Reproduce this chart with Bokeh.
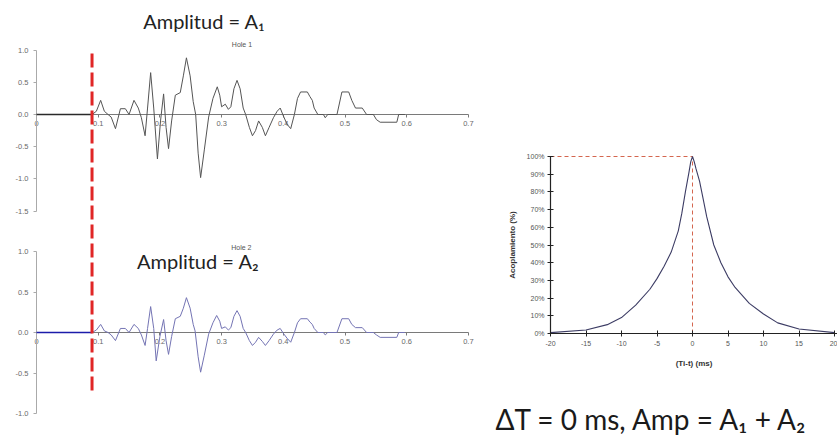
from bokeh.plotting import figure
from bokeh.models import (Range1d, LinearAxis, FixedTicker, PrintfTickFormatter,
                          NumeralTickFormatter, Label)
from bokeh.embed import file_html
from bokeh.resources import INLINE

# ---------------- data ----------------
# Hole 1 trace (time s, amplitude)
T1 = [0.090, 0.097, 0.104, 0.110, 0.116, 0.121, 0.128, 0.136, 0.144, 0.150, 0.158, 0.165,
      0.170, 0.176, 0.180, 0.185, 0.190, 0.196, 0.201, 0.206, 0.210, 0.214, 0.219, 0.225,
      0.233, 0.238, 0.243, 0.249, 0.254, 0.258, 0.262, 0.266, 0.272, 0.279, 0.286, 0.293,
      0.297, 0.300, 0.306, 0.311, 0.315, 0.320, 0.325, 0.330, 0.335, 0.339, 0.345, 0.350,
      0.355, 0.360, 0.366, 0.371, 0.377, 0.384, 0.390, 0.395, 0.400, 0.406, 0.412, 0.418,
      0.423, 0.428, 0.439, 0.443, 0.447, 0.450, 0.456, 0.465, 0.468, 0.472, 0.487, 0.495,
      0.506, 0.511, 0.517, 0.528, 0.535, 0.546, 0.551, 0.557, 0.584, 0.587, 0.597]
A1 = [0.00, 0.05, 0.22, 0.05, 0.00, -0.04, -0.22, 0.09, 0.09, 0.00, 0.22, 0.10,
      -0.05, -0.33, 0.10, 0.65, 0.10, -0.69, -0.10, 0.32, -0.20, -0.53, -0.10, 0.30,
      0.34, 0.60, 0.88, 0.60, 0.20, 0.00, -0.60, -0.98, -0.55, -0.04, 0.25, 0.43,
      0.30, 0.12, 0.16, 0.08, 0.12, 0.40, 0.53, 0.40, 0.10, 0.00, -0.20, -0.33,
      -0.25, -0.10, -0.20, -0.33, -0.20, -0.05, 0.05, 0.10, -0.02, -0.15, -0.22, 0.00,
      0.25, 0.35, 0.35, 0.28, 0.22, 0.10, 0.00, 0.00, -0.05, 0.00, 0.00, 0.35,
      0.35, 0.22, 0.10, 0.10, 0.00, 0.00, -0.08, -0.12, -0.12, 0.00, 0.00]
# Hole 2 trace
T2 = [0.090, 0.097, 0.104, 0.110, 0.116, 0.121, 0.128, 0.136, 0.144, 0.150, 0.158, 0.165,
      0.170, 0.176, 0.180, 0.185, 0.190, 0.194, 0.200, 0.206, 0.210, 0.214, 0.219, 0.225,
      0.233, 0.238, 0.243, 0.249, 0.254, 0.257, 0.262, 0.266, 0.272, 0.279, 0.286, 0.292,
      0.297, 0.300, 0.306, 0.311, 0.315, 0.320, 0.325, 0.330, 0.335, 0.339, 0.345, 0.350,
      0.355, 0.360, 0.366, 0.371, 0.377, 0.384, 0.390, 0.395, 0.400, 0.406, 0.412, 0.418,
      0.423, 0.428, 0.439, 0.443, 0.447, 0.450, 0.456, 0.465, 0.468, 0.472, 0.487, 0.495,
      0.506, 0.511, 0.517, 0.528, 0.535, 0.546, 0.551, 0.557, 0.584, 0.587, 0.597]
A2 = [0.00, 0.03, 0.10, 0.02, 0.00, -0.03, -0.10, 0.05, 0.05, 0.00, 0.10, 0.05,
      -0.03, -0.16, 0.05, 0.32, 0.05, -0.35, -0.05, 0.16, -0.10, -0.27, -0.05, 0.17,
      0.20, 0.30, 0.43, 0.30, 0.10, 0.02, -0.30, -0.49, -0.28, -0.02, 0.12, 0.21,
      0.14, 0.05, 0.07, 0.03, 0.06, 0.20, 0.27, 0.20, 0.05, 0.00, -0.10, -0.16,
      -0.12, -0.06, -0.11, -0.16, -0.10, -0.02, 0.03, 0.05, -0.01, -0.07, -0.12, 0.00,
      0.12, 0.17, 0.17, 0.13, 0.10, 0.05, 0.00, 0.00, -0.03, 0.00, 0.00, 0.17,
      0.17, 0.10, 0.06, 0.06, 0.00, 0.00, -0.03, -0.06, -0.06, 0.00, 0.00]
# flat pre-arrival part of both traces
T_FLAT = [0.0, 0.09]
A_FLAT = [0.0, 0.0]
ARRIVAL_T = 0.09

X_TICKS = [0, 0.1, 0.2, 0.3, 0.4, 0.5, 0.6, 0.7]
Y_TICKS_TOP = [-1.5, -1.0, -0.5, 0.0, 0.5, 1.0]
Y_TICKS_BOT = [-1.0, -0.5, 0.0, 0.5, 1.0]

# Coupling curve: (Ti - t) in ms vs coupling fraction
DT = [-20, -15, -12, -10, -8, -6, -5, -4, -3, -2, -1.5, -1, -0.5, -0.25, 0,
      0.25, 0.5, 1, 1.5, 2, 3, 4, 5, 6, 8, 10, 12, 15, 20]
COUP = [0.005, 0.02, 0.05, 0.09, 0.16, 0.25, 0.31, 0.38, 0.46, 0.58, 0.68, 0.80, 0.91, 0.97,
        1.00, 0.97, 0.93, 0.86, 0.76, 0.66, 0.50, 0.40, 0.32, 0.26, 0.17, 0.11, 0.06, 0.025,
        0.005]
DT_TICKS = [-20, -15, -10, -5, 0, 5, 10, 15, 20]
COUP_TICKS = [0, 0.1, 0.2, 0.3, 0.4, 0.5, 0.6, 0.7, 0.8, 0.9, 1.0]

# ---------------- one canvas, several coordinate systems ----------------
W, H = 837, 443
X0_PX, PX_PER_S = 36.0, 617.0          # traces: time axis
TOP_ZERO_PX, TOP_PX_PER_UNIT = 114.0, 64.4
BOT_ZERO_PX, BOT_PX_PER_UNIT = 332.0, 81.0
DT_ORIGIN_PX, DT_PX_PER_MS = 550.0, 7.1  # coupling chart: -20 ms at this pixel
CP_ZERO_PX, CP_PX_PER_UNIT = 333.0, 177.0

xr = Range1d(-X0_PX / PX_PER_S, (W - X0_PX) / PX_PER_S)
yr_top = Range1d((TOP_ZERO_PX - H) / TOP_PX_PER_UNIT, TOP_ZERO_PX / TOP_PX_PER_UNIT)

p = figure(width=W, height=H, x_range=xr, y_range=yr_top,
           x_axis_type=None, y_axis_type=None, toolbar_location=None,
           output_backend="svg", min_border=0, outline_line_color=None)
p.extra_y_ranges = {
    "bot": Range1d((BOT_ZERO_PX - H) / BOT_PX_PER_UNIT, BOT_ZERO_PX / BOT_PX_PER_UNIT),
    "coup": Range1d((CP_ZERO_PX - H) / CP_PX_PER_UNIT, CP_ZERO_PX / CP_PX_PER_UNIT),
}
p.extra_x_ranges = {
    "dt": Range1d(-20 - DT_ORIGIN_PX / DT_PX_PER_MS, -20 + (W - DT_ORIGIN_PX) / DT_PX_PER_MS),
}

TICK_FONT = "Liberation Sans"
BIG_FONT = "Lato"


def style_axis(ax, color="#999999", lab="#6a6a6a", tin=0, tout=3, size="7.5px"):
    ax.axis_line_color = color
    ax.major_tick_line_color = color
    ax.minor_tick_line_color = None
    ax.major_tick_in = tin
    ax.major_tick_out = tout
    ax.major_label_text_font = TICK_FONT
    ax.major_label_text_font_size = size
    ax.major_label_text_color = lab
    ax.major_label_standoff = 3


# axes of the two trace panels
for rng, yt, yb in (("default", Y_TICKS_TOP, (-1.5, 1.0)), ("bot", Y_TICKS_BOT, (-1.0, 1.0))):
    ax = LinearAxis(y_range_name=rng, fixed_location=0, bounds=(0, 0.7),
                    ticker=FixedTicker(ticks=X_TICKS),
                    formatter=PrintfTickFormatter(format="%.1f"),
                    major_label_overrides={0: "0"})
    style_axis(ax, color="#7a7a7a")
    p.add_layout(ax, "below")
    ay = LinearAxis(y_range_name=rng, fixed_location=0, bounds=yb,
                    ticker=FixedTicker(ticks=yt),
                    formatter=PrintfTickFormatter(format="%.1f"))
    style_axis(ay, color="#aaaaaa")
    ay.major_label_standoff = 5
    p.add_layout(ay, "left")

# traces (drawn above the axis lines)
p.line(T1, A1, line_color="#555555", line_width=1, level="overlay")
p.line(T_FLAT, A_FLAT, line_color="#2a2a2a", line_width=1.6, level="overlay")
p.line(T2, A2, line_color="#7474b4", line_width=1, y_range_name="bot", level="overlay")
p.line(T_FLAT, A_FLAT, line_color="#1c1caa", line_width=1.6, y_range_name="bot",
       level="overlay")

# arrival marker spanning both panels (expressed in bottom panel units)
p.segment(x0=[ARRIVAL_T], y0=[(BOT_ZERO_PX - 53) / BOT_PX_PER_UNIT],
          x1=[ARRIVAL_T], y1=[-0.75], y_range_name="bot",
          line_color="#e02626", line_width=3, line_dash="14 5", level="overlay")

p.add_layout(Label(x=0.272, y=1.26, text="Amplitud = A\u2081", text_align="center",
                   text_font=BIG_FONT, text_font_size="20px", text_color="#222222"))
p.add_layout(Label(x=0.333, y=1.03, text="Hole 1", text_align="center",
                   text_font=TICK_FONT, text_font_size="7px", text_color="#555555"))
p.add_layout(Label(x=0.262, y=0.73, y_range_name="bot", text="Amplitud = A\u2082",
                   text_align="center", text_font=BIG_FONT, text_font_size="20px",
                   text_color="#222222"))
p.add_layout(Label(x=0.332, y=1.01, y_range_name="bot", text="Hole 2", text_align="center",
                   text_font=TICK_FONT, text_font_size="7px", text_color="#555555"))

# ---------------- coupling chart ----------------
cx = LinearAxis(x_range_name="dt", y_range_name="coup", fixed_location=0,
                bounds=(-20, 21), ticker=FixedTicker(ticks=DT_TICKS),
                formatter=PrintfTickFormatter(format="%d"), axis_label="(Ti-t) (ms)")
cy = LinearAxis(x_range_name="dt", y_range_name="coup", fixed_location=-20,
                bounds=(0, 1.0), ticker=FixedTicker(ticks=COUP_TICKS),
                formatter=NumeralTickFormatter(format="0%"), axis_label="Acoplamiento (%)")
for ax in (cx, cy):
    style_axis(ax, color="#222222", lab="#555555", tin=3, tout=3, size="7px")
    ax.axis_line_width = 1.2
    ax.axis_label_text_font = TICK_FONT
    ax.axis_label_text_font_size = "8px"
    ax.axis_label_text_font_style = "bold"
    ax.axis_label_text_color = "#333333"
cx.major_label_standoff = 4
cx.axis_label_standoff = 10
cy.major_label_standoff = 3
cy.axis_label_standoff = 7
p.add_layout(cx, "below")
p.add_layout(cy, "left")

p.line([DT_TICKS[0], 0], [1.0, 1.0], x_range_name="dt", y_range_name="coup",
       line_color="#d4664f", line_width=1, line_dash="4 3")
p.line([0, 0], [0, 1.0], x_range_name="dt", y_range_name="coup",
       line_color="#d4664f", line_width=1, line_dash="4 3")
p.line(DT, COUP, x_range_name="dt", y_range_name="coup",
       line_color="#3c3c64", line_width=1.1)

p.add_layout(Label(x=495, y=H - 435, x_units="screen", y_units="screen",
                   text="\u0394T = 0 ms, Amp = A\u2081 + A\u2082",
                   text_font=BIG_FONT, text_font_size="28px", text_color="#1a1a1a"))

open("out.html", "w").write(file_html(p, INLINE))
